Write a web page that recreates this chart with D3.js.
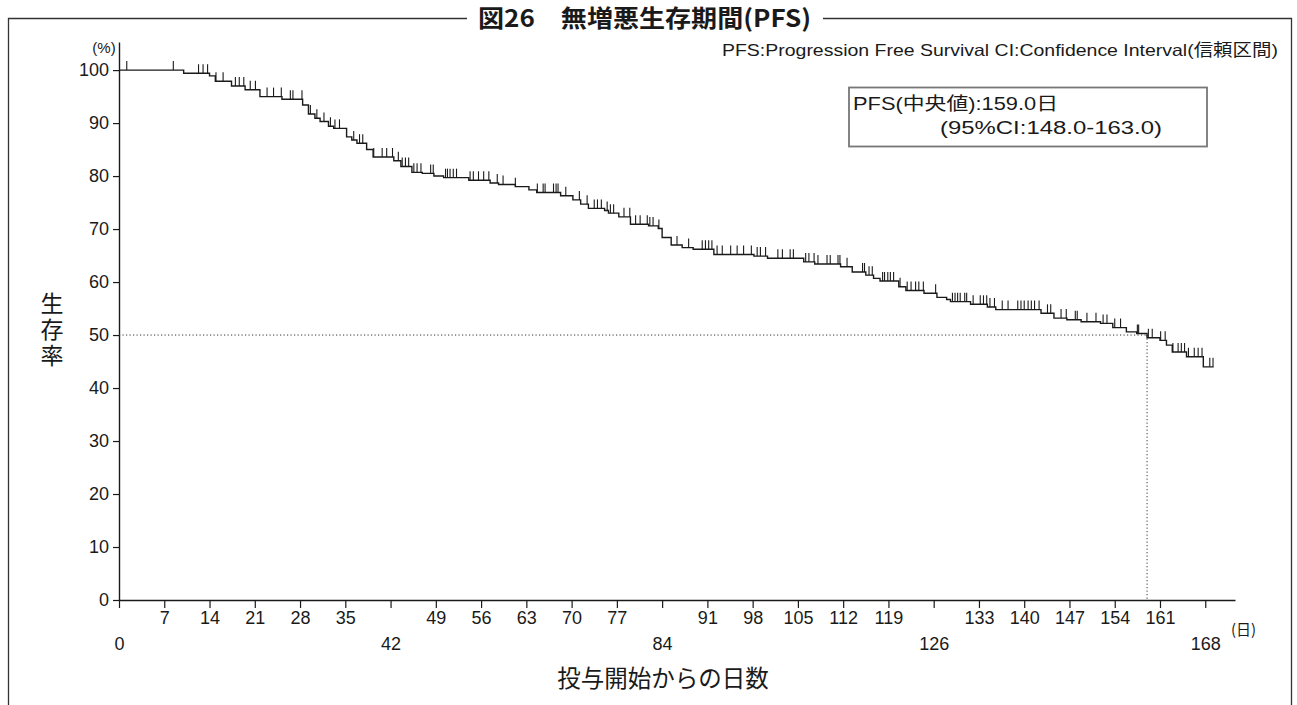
<!DOCTYPE html>
<html>
<head>
<meta charset="utf-8">
<script src="https://cdn.jsdelivr.net/npm/d3@7"></script>
<style>
  body { margin: 0; background: #fff; }
  svg { display: block; }
  .lat { font-family: "Liberation Sans", Arial, "Noto Sans CJK JP", sans-serif; }
  .cjk { font-family: "Noto Sans CJK JP", "Liberation Sans", sans-serif; }
</style>
</head>
<body>
<svg id="chart" width="1297" height="705"></svg>
<script>
// Kaplan–Meier estimate of progression-free survival
// Day of each drop in the curve, and survival (%) right after that drop
const eventDays = [10.0, 14.0, 14.9, 17.4, 19.5, 21.8, 25.2, 28.4, 29.3, 30.3,
  31.1, 32.4, 33.2, 35.2, 36.0, 36.8, 38.3, 39.3, 42.5, 43.6,
  45.3, 46.9, 48.7, 50.2, 54.1, 57.4, 58.7, 61.3, 63.4, 64.6,
  68.3, 70.2, 71.4, 72.6, 75.1, 75.7, 77.3, 79.1, 81.9, 83.4,
  84.0, 85.4, 87.1, 88.8, 92.0, 98.2, 100.3, 105.9, 107.6, 111.6,
  113.4, 115.5, 116.7, 117.7, 120.6, 121.7, 124.5, 126.5, 128.0, 128.6,
  131.7, 134.3, 135.6, 142.6, 144.6, 146.6, 148.8, 151.8, 153.7, 155.8,
  157.4, 159.0, 161.0, 162.0, 162.9, 165.1, 167.7];
const survivalPct = [99.4, 98.9, 97.9, 97.0, 96.3, 95.0, 94.5, 93.4, 91.7, 90.9,
  90.3, 89.4, 89.0, 87.4, 86.8, 86.2, 85.0, 83.6, 82.9, 81.8,
  80.7, 80.5, 80.0, 79.7, 79.2, 78.7, 78.4, 78.0, 77.4, 76.9,
  76.3, 75.5, 74.7, 73.9, 73.5, 73.0, 72.3, 70.9, 70.6, 70.1,
  68.4, 67.0, 66.5, 66.2, 65.2, 64.9, 64.5, 63.8, 63.4, 62.9,
  61.9, 61.3, 60.7, 60.2, 59.1, 58.4, 57.9, 57.1, 56.7, 56.3,
  55.8, 55.3, 54.8, 54.1, 53.2, 52.9, 52.5, 52.2, 51.4, 50.6,
  50.3, 49.5, 49.0, 48.1, 46.8, 45.9, 44.0];
const lastDay = 169.3;

// Censored observations (days)
const censorDays = [1.2, 8.4, 12.3, 13.0, 13.7, 15.0, 16.1, 18.0, 18.6, 19.3,
  20.3, 21.1, 22.9, 23.9, 25.1, 26.5, 26.9, 28.3, 29.6, 30.6,
  31.7, 32.7, 33.4, 34.1, 36.3, 37.2, 37.7, 39.4, 40.7, 41.4,
  42.3, 43.2, 43.8, 44.3, 44.8, 45.6, 46.1, 46.7, 48.2, 48.6,
  50.5, 50.8, 51.2, 51.7, 52.2, 54.3, 54.8, 55.6, 56.4, 57.2,
  58.5, 59.4, 61.3, 64.7, 65.6, 65.9, 67.2, 67.6, 67.9, 69.1,
  71.2, 72.4, 73.5, 74.0, 74.6, 75.5, 76.0, 76.5, 78.1, 79.0,
  79.9, 80.6, 81.7, 82.1, 82.6, 83.5, 86.3, 88.1, 90.2, 90.7,
  91.2, 91.7, 92.5, 93.3, 94.6, 95.6, 96.6, 97.8, 98.7, 99.2,
  100.0, 101.9, 102.6, 103.8, 104.3, 106.2, 106.7, 107.5, 108.1, 109.5,
  110.0, 111.2, 111.5, 112.6, 115.0, 115.3, 116.0, 116.5, 118.1, 118.4,
  118.9, 119.3, 119.8, 120.8, 121.9, 122.5, 123.2, 123.7, 124.4, 126.3,
  128.9, 129.3, 129.7, 130.1, 130.8, 131.1, 132.1, 133.2, 133.7, 134.2,
  134.7, 135.4, 136.6, 137.5, 139.0, 139.5, 140.0, 140.6, 141.1, 141.6,
  142.3, 143.6, 144.1, 145.7, 146.5, 147.9, 148.2, 149.7, 151.1, 152.2,
  152.8, 154.0, 154.9, 157.5, 157.7, 159.2, 159.8, 161.1, 161.8, 163.0,
  163.8, 164.3, 164.8, 165.4, 166.3, 166.9, 167.5, 168.7, 169.2];

const medianDay = 159.0;
const medianLevel = 50;

const yTickValues = [0, 10, 20, 30, 40, 50, 60, 70, 80, 90, 100];
const xTickValues = d3.range(0, 169, 7);        // every week
const xLowerRow = [0, 42, 84, 126, 168];        // labels set on the second row

const titleText = "図26　無増悪生存期間(PFS)";
const noteText = "PFS:Progression Free Survival CI:Confidence Interval(信頼区間)";
const medianText = "PFS(中央値):159.0日";
const ciText = "(95%CI:148.0-163.0)";
const xTitle = "投与開始からの日数";
const yTitle = "生存率";

const svg = d3.select("#chart");
const ink = "#1a1a1a";

// ---- scales ----
const x = d3.scaleLinear().domain([0, 172.6]).range([119, 1235]);
const y = d3.scaleLinear().domain([0, 105.3]).range([600, 42]);

// ---- outer frame with the title set into its top edge ----
const title = svg.append("text")
  .attr("class", "cjk")
  .attr("x", 478).attr("y", 27)
  .attr("font-size", 24).attr("font-weight", 700)
  .attr("fill", ink)
  .attr("textLength", 333).attr("lengthAdjust", "spacingAndGlyphs")
  .text(titleText);
const tb = title.node().getBBox();
const frame = d3.path();
frame.moveTo(tb.x - 11, 18.5); frame.lineTo(8.5, 18.5); frame.lineTo(8.5, 710);
frame.moveTo(tb.x + tb.width + 12, 18.5); frame.lineTo(1291.5, 18.5); frame.lineTo(1291.5, 710);
svg.append("path").attr("d", frame.toString())
  .attr("fill", "none").attr("stroke", "#333").attr("stroke-width", 1.3);

// ---- note line ----
svg.append("text").attr("class", "lat")
  .attr("x", 722).attr("y", 56)
  .attr("font-size", 16.5).attr("fill", ink)
  .attr("textLength", 556).attr("lengthAdjust", "spacingAndGlyphs")
  .text(noteText);

// ---- axes ----
const yAxis = d3.axisLeft(y).tickValues(yTickValues).tickSize(6).tickSizeOuter(0).tickPadding(4);
const gy = svg.append("g").attr("transform", `translate(${x(0)},0)`).call(yAxis);
gy.selectAll("text").attr("class", "lat").attr("font-size", 18).attr("fill", ink);

const xAxis = d3.axisBottom(x).tickValues(xTickValues).tickSize(8).tickSizeOuter(0).tickPadding(3)
  .tickFormat(d => d);
const gx = svg.append("g").attr("transform", `translate(0,${y(0)})`).call(xAxis);
gx.selectAll("text").attr("class", "lat").attr("font-size", 18).attr("fill", ink)
  .attr("dy", d => xLowerRow.includes(d) ? "2.15em" : "0.71em");

[gx, gy].forEach(g => {
  g.select(".domain").attr("stroke", ink).attr("stroke-width", 1.4);
  g.selectAll(".tick line").attr("stroke", ink).attr("stroke-width", 1.2);
});

// unit labels
svg.append("text").attr("class", "lat")
  .attr("x", 104).attr("y", 53).attr("text-anchor", "middle")
  .attr("font-size", 15).attr("fill", ink).text("(%)");
svg.append("text").attr("class", "cjk")
  .attr("x", 1231).attr("y", 635)
  .attr("font-size", 15).attr("fill", ink).text("(日)");

// axis titles
svg.append("text").attr("class", "cjk")
  .attr("x", 663).attr("y", 687).attr("text-anchor", "middle")
  .attr("font-size", 23.5).attr("fill", ink).text(xTitle);
svg.append("text").attr("class", "cjk")
  .attr("x", 52).attr("y", 292)
  .attr("writing-mode", "vertical-rl")
  .style("text-orientation", "upright")
  .attr("letter-spacing", 3)
  .attr("font-size", 23).attr("fill", ink).text(yTitle);

// ---- median reference lines ----
svg.append("line")
  .attr("x1", x(0)).attr("x2", x(medianDay))
  .attr("y1", y(medianLevel)).attr("y2", y(medianLevel))
  .attr("stroke", "#333").attr("stroke-width", 1).attr("stroke-dasharray", "1.2,2.3");
svg.append("line")
  .attr("x1", x(medianDay)).attr("x2", x(medianDay))
  .attr("y1", y(medianLevel)).attr("y2", y(0))
  .attr("stroke", "#333").attr("stroke-width", 1).attr("stroke-dasharray", "1.2,2.3");

// ---- survival step curve ----
const stepPoints = [[0, 100]]
  .concat(eventDays.map((d, i) => [d, survivalPct[i]]))
  .concat([[lastDay, survivalPct[survivalPct.length - 1]]]);
const stepLine = d3.line().x(d => x(d[0])).y(d => y(d[1])).curve(d3.curveStepAfter);
svg.append("path").datum(stepPoints)
  .attr("d", stepLine)
  .attr("fill", "none").attr("stroke", ink).attr("stroke-width", 1.4);

// level of the curve at a given day
const levelAt = day => {
  const i = d3.bisectRight(eventDays, day);
  return i === 0 ? 100 : survivalPct[i - 1];
};

// censor ticks
svg.append("g").selectAll("line").data(censorDays).join("line")
  .attr("x1", d => x(d)).attr("x2", d => x(d))
  .attr("y1", d => y(levelAt(d))).attr("y2", d => y(levelAt(d)) - 9)
  .attr("stroke", ink).attr("stroke-width", 1.1);

// ---- median box ----
svg.append("rect")
  .attr("x", 849).attr("y", 87.5).attr("width", 358).attr("height", 59)
  .attr("fill", "none").attr("stroke", "#777").attr("stroke-width", 1.8);
svg.append("text").attr("class", "lat")
  .attr("x", 853).attr("y", 110)
  .attr("font-size", 18).attr("fill", ink)
  .attr("textLength", 205).attr("lengthAdjust", "spacingAndGlyphs")
  .text(medianText);
svg.append("text").attr("class", "lat")
  .attr("x", 940).attr("y", 134)
  .attr("font-size", 18).attr("fill", ink)
  .attr("textLength", 222).attr("lengthAdjust", "spacingAndGlyphs")
  .text(ciText);
</script>
</body>
</html>
